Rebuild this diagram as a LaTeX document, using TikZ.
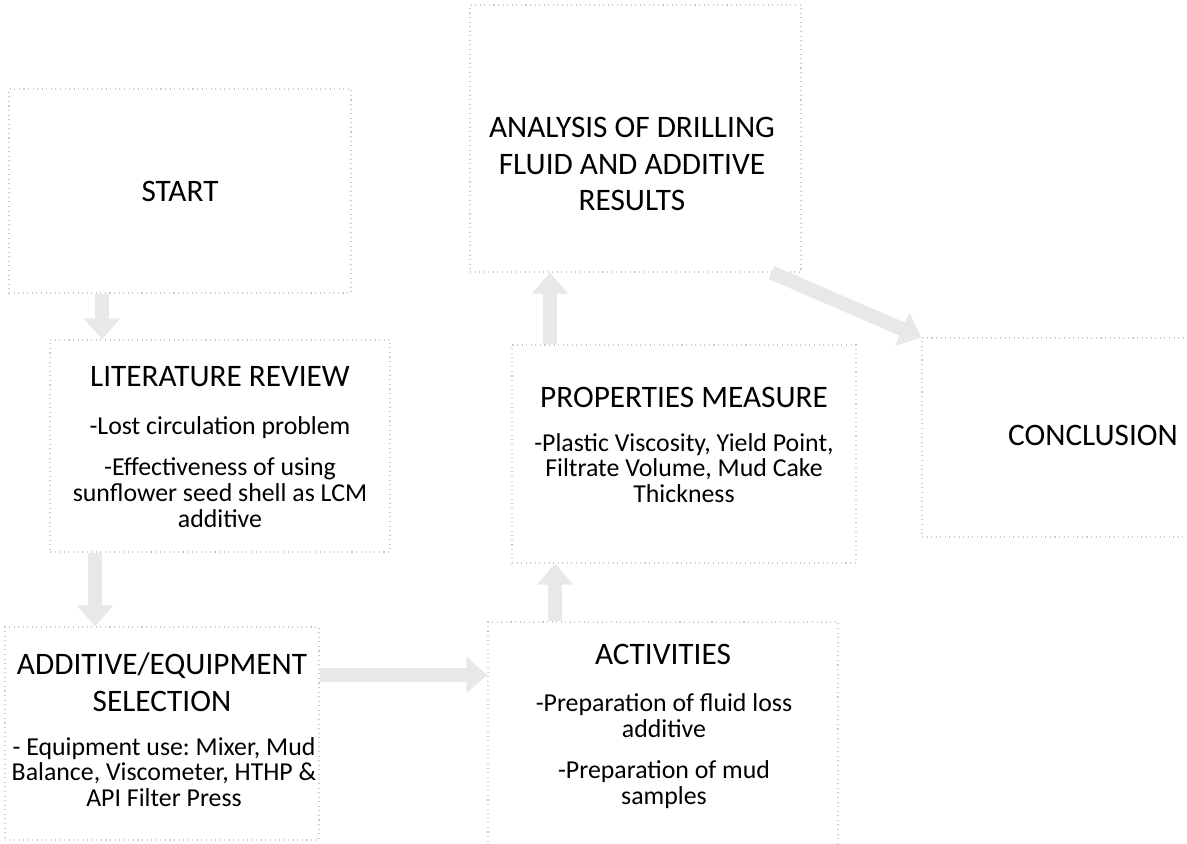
\documentclass[tikz,border=0pt]{standalone}
\usepackage{fontspec}
\setmainfont{Carlito}
\usetikzlibrary{positioning, calc, fit, arrows.meta}
\frenchspacing

\begin{document}
\begin{tikzpicture}[
        x=0.02cm, y=-0.02cm,
        stage/.style={draw=gray!40, dotted, line width=0.6pt, inner sep=0pt},
        title/.style={align=center, inner sep=0pt, font=\fontsize{17.8}{21}\selectfont},
        note/.style={align=center, inner sep=0pt, font=\fontsize{14.7}{14.7}\selectfont},
        flow/.style={draw=gray!18, line width=8pt, -{Triangle[length=12pt, width=20pt]}}
    ]
        \useasboundingbox (0,0) rectangle (1187,843);

        % Frames
        \node [stage, fit={(9,89) (351,293)}] (startbox) {};
        \node [stage, fit={(470,5) (801,272)}] (anabox) {};
        \node [stage, fit={(50,340) (390,552)}] (litbox) {};
        \node [stage, fit={(512,345) (856,563)}] (propbox) {};
        \node [stage, fit={(922,338) (1264,537)}] (conbox) {};
        \node [stage, fit={(5,627) (319,840)}] (addbox) {};
        \node [stage, fit={(488,622) (838,850)}] (actbox) {};

        % Texts
        \node [title] (starttxt) at (180,191) {START};
        \node [title] (anatxt) at (632,164) {ANALYSIS OF DRILLING\\FLUID AND ADDITIVE\\RESULTS};
        \node [title] (littxt) at (220,377) {LITERATURE REVIEW};
        \node [note] (litnote) at (220,472) {-Lost circulation problem\\[9pt]-Effectiveness of using\\sunflower seed shell as LCM\\additive};
        \node [title] (proptxt) at (684,397) {PROPERTIES MEASURE};
        \node [note] (propnote) at (684,468) {-Plastic Viscosity, Yield Point,\\Filtrate Volume, Mud Cake\\Thickness};
        \node [title] (contxt) at (1093,435) {CONCLUSION};
        \node [title] (addtxt) at (162,682) {ADDITIVE/EQUIPMENT\\SELECTION};
        \node [note] (addnote) at (164,772) {- Equipment use: Mixer, Mud\\Balance, Viscometer, HTHP \&\\API Filter Press};
        \node [title] (acttxt) at (663,654) {ACTIVITIES};
        \node [note] (actnote) at (664,751) {-Preparation of fluid loss\\additive\\[9pt]-Preparation of mud\\samples};

        % Arrows
        \coordinate (x1) at (102,0);
        \coordinate (x2) at (95,0);
        \coordinate (y3) at (0,675);
        \coordinate (x4) at (555,0);
        \coordinate (x5) at (550,0);
        \draw [flow] (startbox.south -| x1) -- (litbox.north -| x1);
        \draw [flow] (litbox.south -| x2) -- (addbox.north -| x2);
        \draw [flow] (addbox.east |- y3) -- (actbox.west |- y3);
        \draw [flow] (actbox.north -| x4) -- (propbox.south -| x4);
        \draw [flow] (propbox.north -| x5) -- (anabox.south -| x5);
        \draw [flow] ([xshift=-0.6cm]anabox.south east) -- (conbox.north west);

\end{tikzpicture}
\end{document}
